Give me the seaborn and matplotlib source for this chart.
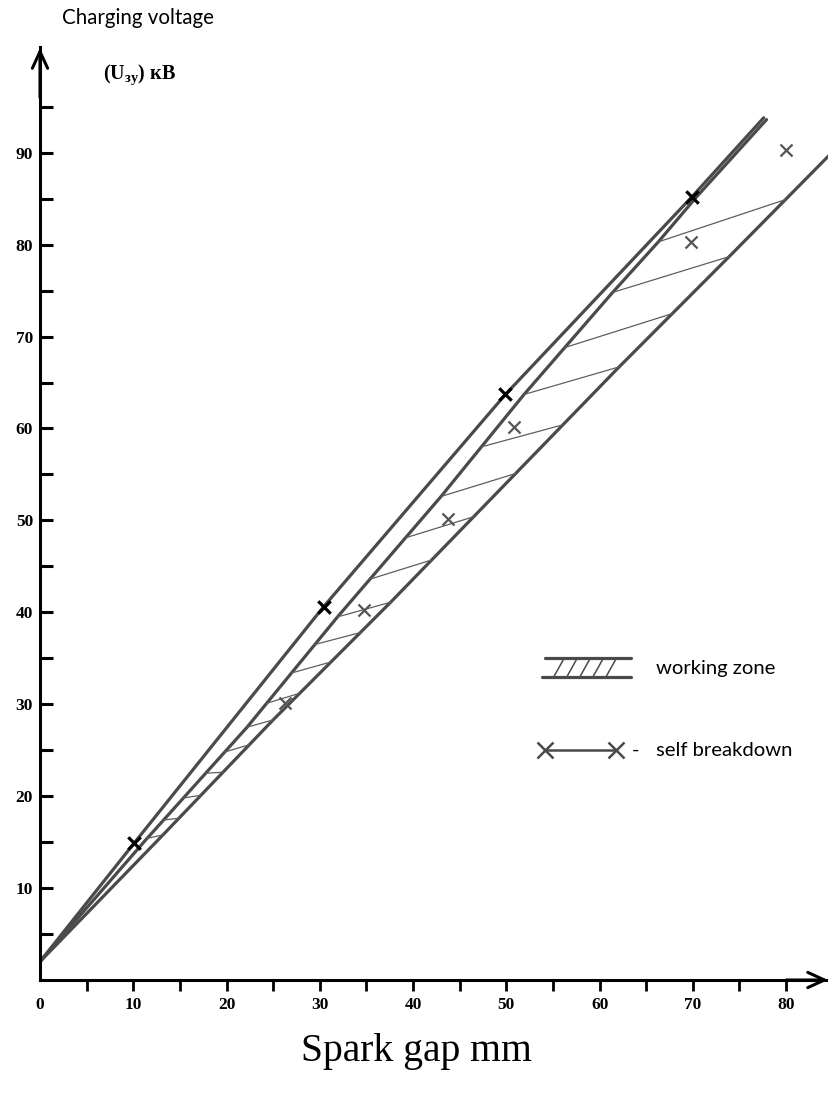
import matplotlib
matplotlib.use("Agg")
import matplotlib.pyplot as plt
import numpy as np
import seaborn as sns

# boundary curves (spark gap mm, charging voltage kV)
upper_x = [0, 10.1, 30.4, 49.9, 69.9, 77.6]
upper_y = [2.0, 14.9, 40.6, 63.7, 85.2, 93.8]

middle_x = [0, 11.3, 22.2, 31.9, 43.0, 51.9, 61.4, 66.3, 70.4, 77.9]
middle_y = [2.0, 15.2, 27.5, 39.5, 52.6, 63.7, 74.8, 80.3, 85.2, 93.6]

lower_x = [0, 13.2, 25.0, 37.6, 51.0, 62.1, 73.9, 84.7]
lower_y = [2.0, 15.8, 28.3, 41.1, 55.1, 66.7, 78.7, 89.8]

# hatch strokes of the working zone: voltage where each starts on the
# middle curve and where it ends on the lower curve
hatch_y_mid = [15.4, 17.4, 19.8, 22.5, 24.8, 27.5, 30.1, 33.4, 36.5,
               39.5, 43.6, 48.1, 52.6, 58.0, 63.7, 68.8, 74.8, 80.3]
hatch_y_low = [15.8, 17.6, 20.1, 22.6, 25.6, 28.3, 31.2, 34.6, 37.8,
               41.1, 45.7, 50.4, 55.1, 60.4, 66.7, 72.5, 78.7, 84.9]

# self breakdown points on the upper curve
bd_x = [10.1, 30.4, 49.9, 69.9]
bd_y = [14.9, 40.6, 63.7, 85.2]

# other measured points
pt_x = [26.3, 34.7, 43.8, 50.8, 69.8, 80.0]
pt_y = [30.1, 40.2, 50.2, 60.2, 80.3, 90.3]

x_ticks = list(range(0, 85, 5))
y_ticks = list(range(5, 100, 5))

sns.set_theme(style="white")
plt.rcParams["font.family"] = ["Liberation Serif", "DejaVu Serif"]
plt.rcParams["text.color"] = "black"
plt.rcParams["mathtext.fontset"] = "custom"
plt.rcParams["mathtext.rm"] = "Liberation Serif:bold"
plt.rcParams["mathtext.bf"] = "Liberation Serif:bold"
plt.rcParams["mathtext.it"] = "Liberation Serif:bold"

W, H = 829, 1095
fig = plt.figure(figsize=(W / 100, H / 100), dpi=100)
ax = fig.add_axes([40 / W, 115 / H, 789 / W, 933 / H])
ax.set_xlim(0, 84.6)
ax.set_ylim(0, 101.5)

line_c = "#4a4a4a"
lw = 2.3
sns.lineplot(x=upper_x, y=upper_y, sort=False, estimator=None, ax=ax,
             color=line_c, lw=lw)
sns.lineplot(x=middle_x, y=middle_y, sort=False, estimator=None, ax=ax,
             color=line_c, lw=lw)
sns.lineplot(x=lower_x, y=lower_y, sort=False, estimator=None, ax=ax,
             color=line_c, lw=lw)

hx0 = np.interp(hatch_y_mid, middle_y, middle_x)
hx1 = np.interp(hatch_y_low, lower_y, lower_x)
ax.plot([hx0, hx1], [hatch_y_mid, hatch_y_low], color="#5e5e5e", lw=0.9)

sns.scatterplot(x=pt_x, y=pt_y, marker="x", s=75, color="#555555",
                linewidth=1.6, ax=ax, zorder=5)
sns.scatterplot(x=bd_x, y=bd_y, marker="x", s=80, color="black",
                linewidth=2.3, ax=ax, zorder=6)

# axes drawn like the hand sketch: open arrows, ticks every 5
for s in ["top", "right"]:
    ax.spines[s].set_visible(False)
for s in ["left", "bottom"]:
    ax.spines[s].set_linewidth(2.2)
    ax.spines[s].set_color("black")

ax.set_xticks(x_ticks)
ax.set_xticklabels([str(v) if v % 10 == 0 else "" for v in x_ticks])
ax.set_yticks(y_ticks)
ax.set_yticklabels([str(v) if v % 10 == 0 else "" for v in y_ticks])
ax.tick_params(axis="x", bottom=True, direction="out", length=8, width=2,
               color="black", pad=4, labelsize=12.5)
ax.tick_params(axis="y", left=True, direction="in", length=9, width=2.2,
               color="black", pad=5, labelsize=12.5)
ax.xaxis.get_major_ticks()[0].tick1line.set_visible(False)
for lab in ax.get_xticklabels() + ax.get_yticklabels():
    lab.set_fontweight("bold")
    lab.set_color("black")

arrow = dict(arrowstyle="->,head_length=1.2,head_width=0.55", lw=2.2,
             color="black", shrinkA=0, shrinkB=0, mutation_scale=10)
ax.annotate("", xy=(0, 101.4), xytext=(0, 96), arrowprops=arrow,
            annotation_clip=False)
ax.annotate("", xy=(84.5, 0), xytext=(80, 0), arrowprops=arrow,
            annotation_clip=False)

ax.set_xlabel("")
ax.set_ylabel("")

sans = ["Lato", "DejaVu Sans"]
fig.text(62 / W, 1 - 18 / H, "Charging voltage", family=sans, size=14.8,
         ha="left", va="center")
fig.text(103 / W, 1 - 75 / H, r"$\mathbf{(U_{зу})\ кВ}$", size=14.5,
         ha="left", va="center")
fig.text(416 / W, 1 - 1052 / H, "Spark gap mm", size=28.5,
         ha="center", va="center")

# legend sketched beside the curves
ax.plot([54.2, 63.4], [35.0, 35.0], color=line_c, lw=lw)
ax.plot([53.8, 63.4], [33.0, 33.0], color=line_c, lw=lw)
for xb in [55.1, 56.5, 57.9, 59.3, 60.7]:
    ax.plot([xb, xb + 1.1], [33.0, 35.0], color=line_c, lw=1.1)
ax.text(66.1, 33.9, "working zone", family=sans, size=14.6, va="center")

ax.plot([54.2, 61.8], [25.0, 25.0], color=line_c, lw=1.8,
        marker="x", markersize=11, markeredgewidth=1.8,
        markevery=[0, 1])
ax.text(63.5, 25.0, "-", family=sans, size=14.6, va="center")
ax.text(66.1, 25.0, "self breakdown", family=sans, size=14.6, va="center")

fig.savefig("out.png", dpi=100)
